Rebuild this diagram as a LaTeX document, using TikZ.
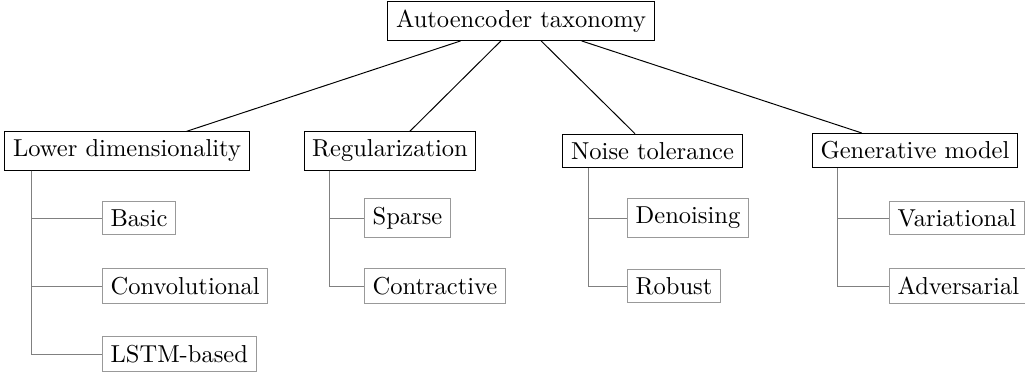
\documentclass[tikz,border=0pt]{standalone}
\usetikzlibrary{calc}
\begin{document}
\begin{tikzpicture}[x=0.40816pt,y=-0.40816pt,
  catbox/.style={draw=black,line width=0.4pt,inner sep=3.33pt},
  leafbox/.style={draw=black!40,line width=0.4pt,inner sep=3.33pt,anchor=west},
  tree/.style={draw=black!50,line width=0.4pt},
  link/.style={draw=black,line width=0.4pt}]
\useasboundingbox (0,0) rectangle (1025,374);
\node[catbox] (R) at (521,21) {Autoencoder taxonomy};
\node[catbox] (L) at (127,151) {Lower dimensionality};
\node[catbox] (G) at (390,151) {Regularization};
\node[catbox] (N) at (652.5,151) {Noise tolerance};
\node[catbox] (V) at (915,150.5) {Generative model};
\draw[link] (R) -- (L);
\draw[link] (R) -- (G);
\draw[link] (R) -- (N);
\draw[link] (R) -- (V);
% children
\node[leafbox] (L1) at (102,218) {Basic};
\node[leafbox] (L2) at (102,286) {Convolutional};
\node[leafbox] (L3) at (102,354) {LSTM-based};
\node[leafbox] (G1) at (364,218) {Sparse};
\node[leafbox] (G2) at (364,286) {Contractive};
\node[leafbox] (N1) at (627,218) {Denoising};
\node[leafbox] (N2) at (627,286) {Robust};
\node[leafbox] (V1) at (889,218) {Variational};
\node[leafbox] (V2) at (889,286) {Adversarial};
\draw[tree] ([xshift=11pt]L.south west) |- (L1.west);
\draw[tree] ([xshift=11pt]L.south west) |- (L2.west);
\draw[tree] ([xshift=11pt]L.south west) |- (L3.west);
\draw[tree] ([xshift=10.6pt]G.south west) |- (G1.west);
\draw[tree] ([xshift=10.6pt]G.south west) |- (G2.west);
\draw[tree] ([xshift=10.6pt]N.south west) |- (N1.west);
\draw[tree] ([xshift=10.6pt]N.south west) |- (N2.west);
\draw[tree] ([xshift=10.6pt]V.south west) |- (V1.west);
\draw[tree] ([xshift=10.6pt]V.south west) |- (V2.west);
\end{tikzpicture}
\end{document}
